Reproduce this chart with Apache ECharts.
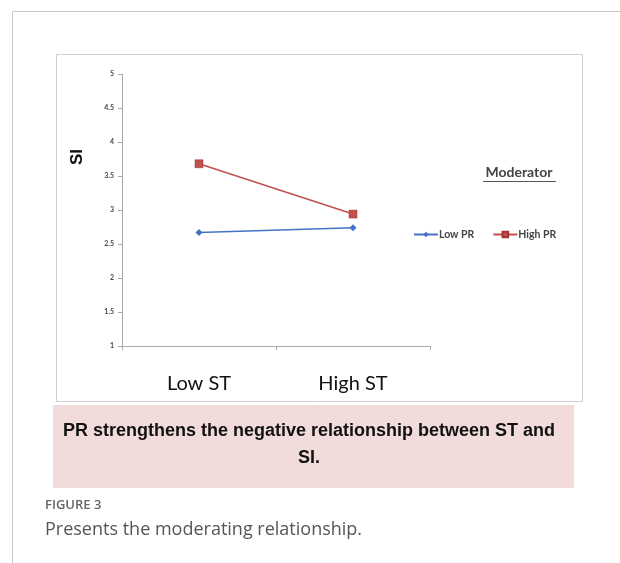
<!DOCTYPE html>
<html><head><meta charset="utf-8">
<script src="https://cdn.jsdelivr.net/npm/echarts@6/dist/echarts.min.js"></script>
<style>html,body{margin:0;padding:0;background:#fff}#c{width:620px;height:563px}</style>
</head><body><div id="c"></div>
<script>
const categories = ['Low ST', 'High ST'];
const lowPR = [2.67, 2.74];
const highPR = [3.68, 2.94];
const seriesNames = ['Low PR', 'High PR'];
const yTicks = [1, 1.5, 2, 2.5, 3, 3.5, 4, 4.5, 5];

const chart = echarts.init(document.getElementById('c'));
chart.setOption({
  animation: false,
  backgroundColor: '#fff',
  grid: {left: 122, right: 190, top: 74, bottom: 217, containLabel: false},
  xAxis: {
    type: 'category', data: categories, boundaryGap: true,
    axisLine: {lineStyle: {color: '#aaa', width: 1}},
    axisTick: {show: true, length: 4, lineStyle: {color: '#aaa'}},
    axisLabel: {fontFamily: 'Lato', fontSize: 20, color: '#111', margin: 28}
  },
  yAxis: {
    type: 'value', min: yTicks[0], max: yTicks[yTicks.length - 1], interval: 0.5,
    axisLine: {show: true, lineStyle: {color: '#aaa', width: 1}},
    axisTick: {show: true, length: 4, lineStyle: {color: '#aaa'}},
    splitLine: {show: false},
    axisLabel: {fontFamily: 'Lato', fontSize: 7, fontWeight: 'bold', color: '#444', margin: 8}
  },
  legend: {
    left: 408, top: 224, itemWidth: 24, itemHeight: 7, itemGap: 18,
    data: seriesNames,
    textStyle: {fontFamily: 'Lato', fontSize: 10.5, fontWeight: 'bold', color: '#444', padding: [0, 0, 0, -4]}
  },
  series: [
    {name: seriesNames[0], type: 'line', data: lowPR, symbol: 'diamond', symbolSize: 7,
     itemStyle: {color: '#4472C4'}, lineStyle: {color: '#4472C4', width: 1.5}},
    {name: seriesNames[1], type: 'line', data: highPR, symbol: 'rect', symbolSize: 8,
     itemStyle: {color: '#C0504D', borderColor: '#A33', borderWidth: 0.5}, lineStyle: {color: '#C0504D', width: 1.5}}
  ],
  graphic: [
    {type: 'polyline', silent: true, shape: {points: [[12.5, 563], [12.5, 11.5], [620, 11.5]]}, style: {stroke: '#c8c8c8', lineWidth: 1, fill: null}},
    {type: 'rect', silent: true, z: -1, shape: {x: 56.5, y: 54.5, width: 526, height: 347}, style: {stroke: '#cfcfcf', lineWidth: 1, fill: '#fff'}},
    {type: 'rect', silent: true, shape: {x: 53, y: 405, width: 521, height: 83}, style: {fill: '#f2dcdb'}},
    {type: 'text', silent: true, style: {x: 309, y: 431, text: 'PR strengthens the negative relationship between ST and', font: 'bold 18px "Liberation Sans"', fill: '#111', align: 'center', verticalAlign: 'middle'}},
    {type: 'text', silent: true, style: {x: 309, y: 458, text: 'SI.', font: 'bold 18px "Liberation Sans"', fill: '#111', align: 'center', verticalAlign: 'middle'}},
    {type: 'text', silent: true, rotation: Math.PI / 2, x: 77, y: 157, style: {x: 0, y: 0, text: 'SI', font: 'bold 17px "Liberation Sans"', fill: '#111', align: 'center', verticalAlign: 'middle'}},
    {type: 'text', silent: true, style: {x: 519, y: 172, text: 'Moderator', font: 'bold 14px Lato', fill: '#444', align: 'center', verticalAlign: 'middle'}},
    {type: 'line', silent: true, shape: {x1: 483, y1: 181.5, x2: 556, y2: 181.5}, style: {stroke: '#555', lineWidth: 1}},
    {type: 'text', silent: true, style: {x: 45, y: 505, text: 'FIGURE 3', font: '600 13px "Open Sans"', fill: '#666', verticalAlign: 'middle'}},
    {type: 'text', silent: true, style: {x: 45, y: 530, text: 'Presents the moderating relationship.', font: '18px "Open Sans"', fill: '#555', verticalAlign: 'middle'}}
  ]
});
</script></body></html>
